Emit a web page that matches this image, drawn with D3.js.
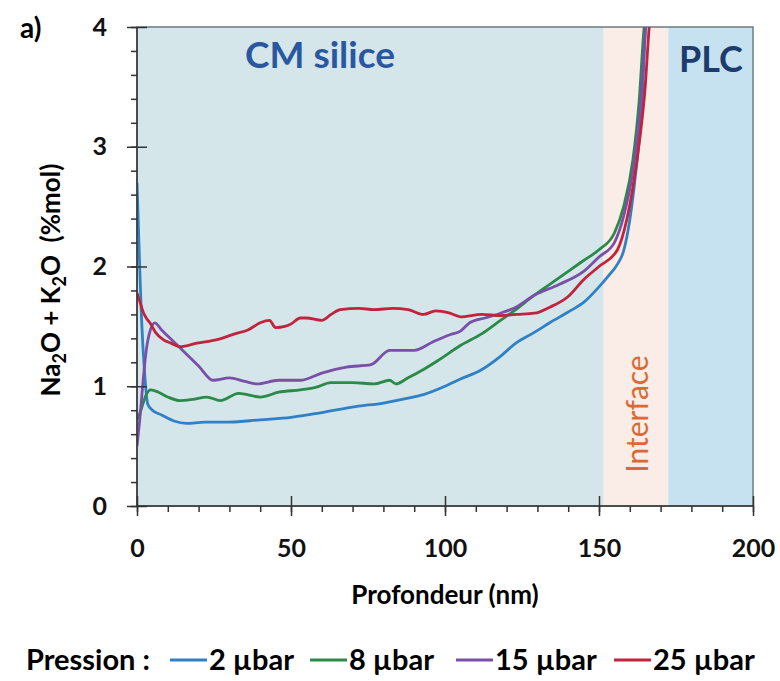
<!DOCTYPE html>
<html>
<head>
<meta charset="utf-8">
<script src="https://cdn.jsdelivr.net/npm/d3@7"></script>
<style>
  body { margin: 0; background: #fff; }
  svg { display: block; font-family: Lato, "Open Sans", sans-serif; }
</style>
</head>
<body>
<script>
// Na2O + K2O profile vs depth, four pressures
const seriesNames = ["2 µbar", "8 µbar", "15 µbar", "25 µbar"];
const seriesColors = ["#2f80c4", "#2b8a48", "#7a4fa8", "#c2233c"];

const depth2 = [0, 0.5, 1, 1.5, 2.5, 3.5, 5, 8, 12, 16, 22, 30, 40, 50, 60, 71, 80, 88, 93, 100, 105, 112, 118, 123, 129, 134, 140, 145, 150, 153, 156, 158, 160, 162, 164, 165, 165.4];
const value2 = [2.7, 2.3, 1.9, 1.55, 1.1, 0.85, 0.8, 0.76, 0.71, 0.69, 0.70, 0.70, 0.72, 0.74, 0.78, 0.83, 0.86, 0.90, 0.93, 1.0, 1.06, 1.14, 1.25, 1.36, 1.45, 1.53, 1.62, 1.70, 1.83, 1.92, 2.02, 2.13, 2.39, 2.8, 3.37, 3.95, 4.1];

const depth8 = [0, 1, 2, 3, 4.5, 7, 10, 14, 18, 22.7, 27, 33, 40, 46, 53, 58, 63, 70, 77, 82, 84, 88, 93, 98, 105, 112, 118, 123, 129, 134, 140, 145, 150, 155, 158, 161, 163, 164.5, 165];
const value8 = [0.72, 0.78, 0.86, 0.93, 0.97, 0.95, 0.91, 0.88, 0.89, 0.91, 0.88, 0.94, 0.91, 0.95, 0.97, 0.99, 1.03, 1.03, 1.02, 1.05, 1.02, 1.07, 1.14, 1.22, 1.34, 1.44, 1.55, 1.64, 1.76, 1.85, 1.96, 2.05, 2.14, 2.28, 2.5, 2.89, 3.37, 3.95, 4.1];

const depth15 = [0, 1, 2, 3, 4, 5.8, 8, 12, 16, 20, 24.7, 30, 35, 39, 46, 53, 60, 68, 76, 82, 90, 96, 101.6, 105, 108, 113, 118, 123, 129, 137, 145, 150, 155, 158, 161, 163.3, 165, 165.4];
const value15 = [0.5, 0.75, 1.05, 1.3, 1.44, 1.53, 1.47, 1.37, 1.27, 1.17, 1.05, 1.07, 1.04, 1.02, 1.05, 1.05, 1.11, 1.16, 1.18, 1.30, 1.30, 1.37, 1.43, 1.46, 1.53, 1.57, 1.61, 1.66, 1.76, 1.85, 1.96, 2.08, 2.2, 2.42, 2.8, 3.3, 3.95, 4.1];

const depth25 = [0, 1, 2, 3, 4.2, 6, 8.5, 11, 14, 19.5, 26, 32, 36, 40, 43, 45, 48, 50, 53, 55, 60, 63, 66, 72, 77, 83, 88, 93, 97, 101.6, 105, 112, 118, 123, 129, 134, 140, 145, 150, 156, 159, 161, 163.3, 165, 166.2, 166.6];
const value25 = [1.78, 1.7, 1.62, 1.57, 1.53, 1.45, 1.39, 1.36, 1.33, 1.36, 1.39, 1.44, 1.47, 1.53, 1.55, 1.49, 1.50, 1.52, 1.57, 1.57, 1.55, 1.60, 1.64, 1.65, 1.64, 1.65, 1.64, 1.60, 1.63, 1.61, 1.58, 1.60, 1.59, 1.60, 1.61, 1.66, 1.75, 1.89, 2.0, 2.14, 2.39, 2.66, 3.08, 3.5, 3.97, 4.1];

// zones along the depth axis
const zoneNames = ["CM silice", "Interface", "PLC"];
const zoneStart = [0, 151.5, 172.5];
const zoneEnd = [151.5, 172.5, 200];
const zoneFill = ["#d4e6ea", "#faece7", "#c6e2f1"];

const xTicks = [0, 50, 100, 150, 200];
const yTicks = [0, 1, 2, 3, 4];

const width = 780, height = 681;
const mLeft = 137, mRight = 753, mTop = 27, mBottom = 506;

const x = d3.scaleLinear().domain([0, 200]).range([mLeft, mRight]);
const y = d3.scaleLinear().domain([0, 4]).range([mBottom, mTop]);

const svg = d3.select("body").append("svg")
    .attr("width", width)
    .attr("height", height);

svg.append("clipPath").attr("id", "plot")
  .append("rect")
    .attr("x", mLeft).attr("y", mTop)
    .attr("width", mRight - mLeft).attr("height", mBottom - mTop);

svg.append("g")
  .selectAll("rect")
  .data(zoneNames)
  .join("rect")
    .attr("x", (d, i) => x(zoneStart[i]))
    .attr("width", (d, i) => x(zoneEnd[i]) - x(zoneStart[i]))
    .attr("y", mTop)
    .attr("height", mBottom - mTop)
    .attr("fill", (d, i) => zoneFill[i]);

// frame
svg.append("rect")
    .attr("x", mLeft).attr("y", mTop)
    .attr("width", mRight - mLeft).attr("height", mBottom - mTop)
    .attr("fill", "none")
    .attr("stroke", "#6d7b80")
    .attr("stroke-width", 1.5);

svg.append("text")
    .attr("x", 245).attr("y", 68)
    .attr("fill", "#2a58a0")
    .attr("font-size", 37)
    .attr("font-weight", "bold")
    .text(zoneNames[0]);

svg.append("text")
    .attr("x", 679).attr("y", 72)
    .attr("fill", "#1d3b6d")
    .attr("font-size", 36)
    .attr("font-weight", "bold")
    .text(zoneNames[2]);

svg.append("text")
    .attr("transform", "translate(648,414) rotate(-90)")
    .attr("text-anchor", "middle")
    .attr("fill", "#d96a35")
    .attr("font-size", 30)
    .text(zoneNames[1]);

// curves
const series = [
  depth2.map((d, i) => [d, value2[i]]),
  depth8.map((d, i) => [d, value8[i]]),
  depth15.map((d, i) => [d, value15[i]]),
  depth25.map((d, i) => [d, value25[i]])
];

const line = d3.line()
    .x(d => x(d[0]))
    .y(d => y(d[1]))
    .curve(d3.curveMonotoneX);

svg.append("g")
    .attr("clip-path", "url(#plot)")
  .selectAll("path")
  .data(series)
  .join("path")
    .attr("fill", "none")
    .attr("stroke", (d, i) => seriesColors[i])
    .attr("stroke-width", 2.8)
    .attr("stroke-linejoin", "round")
    .attr("d", line);

// axes
const yMinor = svg.append("g")
    .attr("transform", `translate(${mLeft},0)`)
    .call(d3.axisLeft(y).ticks(20).tickSize(6).tickFormat(""));
yMinor.select(".domain").remove();

const yAxis = svg.append("g")
    .attr("transform", `translate(${mLeft},0)`)
    .call(d3.axisLeft(y).tickValues(yTicks).tickSize(10).tickPadding(20).tickFormat(d3.format("d")));
yAxis.selectAll(".tick line").attr("x2", -10).attr("x1", 10);
yAxis.select(".domain").attr("d", `M0,${mTop}V${mBottom}`);

const xMinor = svg.append("g")
    .attr("transform", `translate(0,${mBottom})`)
    .call(d3.axisBottom(x).ticks(20).tickSize(6).tickFormat(""));
xMinor.select(".domain").remove();

const xAxis = svg.append("g")
    .attr("transform", `translate(0,${mBottom})`)
    .call(d3.axisBottom(x).tickValues(xTicks).tickSize(10).tickPadding(23));
xAxis.selectAll(".tick line").attr("y1", -10);
xAxis.select(".domain").attr("d", `M${mLeft},0H${mRight}`);

svg.selectAll(".tick text")
    .attr("font-family", "Lato, sans-serif")
    .attr("font-size", 25)
    .attr("font-weight", "bold")
    .attr("fill", "#111");
svg.selectAll(".domain, .tick line")
    .attr("stroke", "#333")
    .attr("stroke-width", 1.5);

svg.append("text")
    .attr("x", 20).attr("y", 38)
    .attr("font-size", 28)
    .attr("font-weight", "bold")
    .text("a)");

// axis titles
svg.append("text")
    .attr("x", x(100)).attr("y", 604)
    .attr("text-anchor", "middle")
    .attr("font-size", 26)
    .attr("font-weight", "bold")
    .text("Profondeur (nm)");

const yTitle = svg.append("text")
    .attr("transform", "translate(60,280) rotate(-90)")
    .attr("text-anchor", "middle")
    .attr("font-size", 26)
    .attr("font-weight", "bold");
yTitle.append("tspan").text("Na");
yTitle.append("tspan").attr("dy", 6).attr("font-size", 18).text("2");
yTitle.append("tspan").attr("dy", -6).text("O + K");
yTitle.append("tspan").attr("dy", 6).attr("font-size", 18).text("2");
yTitle.append("tspan").attr("dy", -6).attr("xml:space", "preserve").text("O  (%mol)");

// legend
const legendX = [170, 310, 456, 614];
const legend = svg.append("g").attr("font-size", 29).attr("font-weight", "bold");
legend.append("text").attr("x", 26).attr("y", 670).text("Pression :");
const item = legend.selectAll("g.item")
  .data(seriesNames)
  .join("g")
    .attr("class", "item")
    .attr("transform", (d, i) => `translate(${legendX[i]},660)`);
item.append("line")
    .attr("x1", 0).attr("x2", 37)
    .attr("stroke", (d, i) => seriesColors[i])
    .attr("stroke-width", 3.2);
item.append("text")
    .attr("x", 39).attr("y", 10)
    .text(d => d);
</script>
</body>
</html>
